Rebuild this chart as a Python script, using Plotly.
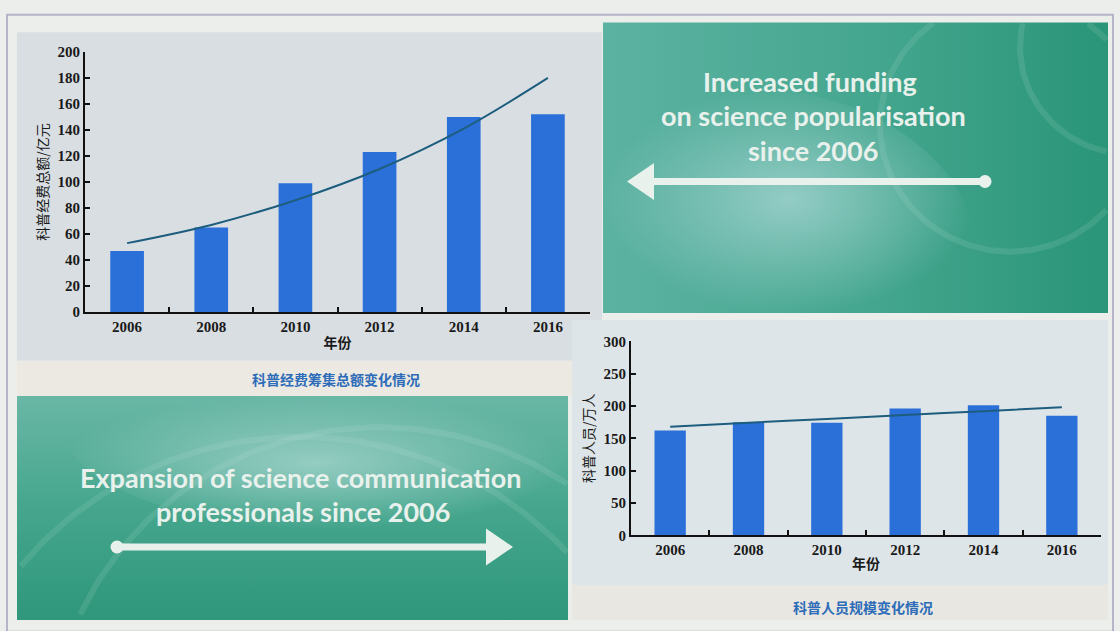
import numpy as np
import plotly.graph_objects as go

W, H = 1120, 631

# ---------------- data ----------------
years = ['2006', '2008', '2010', '2012', '2014', '2016']
funding = [47, 65, 99, 123, 150, 152]            # 科普经费筹集总额 / 亿元
funding_trend = [53, 67, 86, 110, 141, 180]      # fitted trend
staff = [162, 175, 174, 196, 201, 185]           # 科普人员 / 万人
staff_trend = [168, 174, 180, 186, 192, 198]     # fitted trend
funding_ticks = [0, 20, 40, 60, 80, 100, 120, 140, 160, 180, 200]
staff_ticks = [0, 50, 100, 150, 200, 250, 300]

BAR = '#2b6fd9'
TREND = '#1d5d7e'
TXT = '#e9f1ec'


def fx(x):
    return x / W


def fy(y):
    return 1 - y / H


fig = go.Figure()

# ---------- background (pixel) axis: green panels and arrows ----------
def rect(x0, y0, x1, y1):
    return [x0, x1, x1, x0, x0], [y0, y0, y1, y1, y0]


def blob(cx, cy, rx, ry, box):
    t = np.linspace(0, 2 * np.pi, 80)
    xs = np.clip(cx + rx * np.cos(t), box[0], box[2])
    ys = np.clip(cy + ry * np.sin(t), box[1], box[3])
    return list(xs), list(ys)


# top-right green panel
tr = (603, 15, 1108, 313)
xs, ys = rect(*tr)
fig.add_trace(go.Scatter(x=xs, y=ys, mode='lines', line=dict(width=0), fill='toself',
                         fillgradient=dict(type='horizontal',
                                           colorscale=[[0, '#5cb2a1'], [0.5, '#46a790'], [1, '#2a9578']]),
                         hoverinfo='skip', showlegend=False, xaxis='x', yaxis='y'))
bx, by = blob(735, 250, 240, 170, tr)
fig.add_trace(go.Scatter(x=bx, y=by, mode='lines', line=dict(width=0), fill='toself',
                         fillgradient=dict(type='radial',
                                           colorscale=[[0, 'rgba(160,210,205,0.85)'], [1, 'rgba(160,210,205,0)']]),
                         hoverinfo='skip', showlegend=False, xaxis='x', yaxis='y'))

# bottom-left green panel
bl = (17, 398, 568, 628)
xs, ys = rect(*bl)
fig.add_trace(go.Scatter(x=xs, y=ys, mode='lines', line=dict(width=0), fill='toself',
                         fillgradient=dict(type='vertical',
                                           colorscale=[[0, '#2f977b'], [0.5, '#45a68d'], [1, '#6ab7a6']]),
                         hoverinfo='skip', showlegend=False, xaxis='x', yaxis='y'))
bx, by = blob(330, 425, 270, 110, bl)
fig.add_trace(go.Scatter(x=bx, y=by, mode='lines', line=dict(width=0), fill='toself',
                         fillgradient=dict(type='radial',
                                           colorscale=[[0, 'rgba(165,212,205,0.8)'], [1, 'rgba(165,212,205,0)']]),
                         hoverinfo='skip', showlegend=False, xaxis='x', yaxis='y'))

# faint swirl arcs
for cx, cy, r, box in [(1010, 120, 130, tr), (1130, 40, 110, tr), (380, 760, 330, bl), (300, 800, 360, bl)]:
    t = np.linspace(0, 2 * np.pi, 300)
    ax_ = cx + r * np.cos(t)
    ay_ = cy + r * np.sin(t)
    m = (ax_ >= box[0]) & (ax_ <= box[2]) & (ay_ >= box[1]) & (ay_ <= box[3])
    ax_ = np.where(m, ax_, np.nan)
    ay_ = np.where(m, ay_, np.nan)
    fig.add_trace(go.Scatter(x=ax_, y=ay_, mode='lines', line=dict(color='rgba(200,235,225,0.13)', width=6),
                             hoverinfo='skip', showlegend=False, xaxis='x', yaxis='y'))

# arrows
def arrow(x0, x1, y, head_dir):
    hx = x1 - head_dir * 27
    fig.add_trace(go.Scatter(x=[x0, hx], y=[y, y], mode='lines', line=dict(color=TXT, width=7),
                             hoverinfo='skip', showlegend=False, xaxis='x', yaxis='y'))
    fig.add_trace(go.Scatter(x=[x0], y=[y], mode='markers', marker=dict(color=TXT, size=13),
                             hoverinfo='skip', showlegend=False, xaxis='x', yaxis='y'))
    fig.add_trace(go.Scatter(x=[x1, hx, hx, x1], y=[y, y - 19, y + 19, y], mode='lines',
                             line=dict(width=0, color=TXT), fill='toself', fillcolor=TXT,
                             hoverinfo='skip', showlegend=False, xaxis='x', yaxis='y'))


arrow(985, 627, 178, -1)
arrow(117, 513, 553, 1)

# ---------------- charts ----------------
fig.add_trace(go.Bar(x=years, y=funding, marker=dict(color=BAR, line=dict(width=0)), width=0.4,
                     showlegend=False, xaxis='x2', yaxis='y2'))
fig.add_trace(go.Scatter(x=years, y=funding_trend, mode='lines', line=dict(color=TREND, width=2, shape='spline'),
                         showlegend=False, xaxis='x2', yaxis='y2'))
fig.add_trace(go.Bar(x=years, y=staff, marker=dict(color=BAR, line=dict(width=0)), width=0.4,
                     showlegend=False, xaxis='x3', yaxis='y3'))
fig.add_trace(go.Scatter(x=years, y=staff_trend, mode='lines', line=dict(color=TREND, width=2, shape='spline'),
                         showlegend=False, xaxis='x3', yaxis='y3'))

tickfont = dict(family='Liberation Serif', size=15, color='#1a1a1a', weight='bold')
cjk = 'Noto Sans CJK SC'

xcommon = dict(type='category', showline=True, linecolor='#111', linewidth=2, ticks='inside',
               tickson='boundaries', ticklen=5, tickwidth=2, tickcolor='#111', showgrid=False,
               tickfont=tickfont, range=[-0.5, 5.5], fixedrange=True, zeroline=False)
ycommon = dict(showline=True, linecolor='#111', linewidth=2, ticks='inside', ticklen=5, tickwidth=2,
               tickcolor='#111', showgrid=False, zeroline=False, tickfont=tickfont, fixedrange=True)

fig.update_layout(
    width=W, height=H, autosize=False,
    margin=dict(l=0, r=0, t=0, b=0),
    paper_bgcolor='#eceeec', plot_bgcolor='rgba(0,0,0,0)',
    bargap=0.6,
    xaxis=dict(domain=[0, 1], range=[0, W], visible=False, fixedrange=True),
    yaxis=dict(domain=[0, 1], range=[H, 0], visible=False, fixedrange=True),
    xaxis2=dict(domain=[fx(85), fx(590)], anchor='y2',
                title=dict(text='年份', font=dict(family=cjk, size=14, color='#1a1a1a', weight='bold'), standoff=4),
                **xcommon),
    yaxis2=dict(domain=[fy(312), fy(45)], anchor='x2', range=[0, 200], tickvals=funding_ticks,
                title=dict(text='科普经费总额/亿元', font=dict(family=cjk, size=14, color='#1a1a1a'), standoff=6),
                **ycommon),
    xaxis3=dict(domain=[fx(631), fx(1101)], anchor='y3',
                title=dict(text='年份', font=dict(family=cjk, size=14, color='#1a1a1a', weight='bold'), standoff=2),
                **xcommon),
    yaxis3=dict(domain=[fy(541), fy(342)], anchor='x3', range=[0, 300], tickvals=staff_ticks,
                title=dict(text='科普人员/万人', font=dict(family=cjk, size=14, color='#1a1a1a'), standoff=6),
                **ycommon),
)

# ---------- decorative panels (below everything) ----------
shapes = [
    dict(type='rect', x0=fx(7), x1=fx(1113), y0=fy(640), y1=fy(7), line=dict(color='#b7b3c8', width=2),
         fillcolor='#eceeeb'),
    dict(type='rect', x0=fx(17), x1=fx(602), y0=fy(362), y1=fy(25), line=dict(width=0), fillcolor='#d9dee2'),
    dict(type='rect', x0=fx(17), x1=fx(602), y0=fy(398), y1=fy(362), line=dict(width=0), fillcolor='#ece9e2'),
    dict(type='rect', x0=fx(572), x1=fx(1108), y0=fy(592), y1=fy(320), line=dict(width=0), fillcolor='#dee5e8'),
    dict(type='rect', x0=fx(572), x1=fx(1108), y0=fy(628), y1=fy(592), line=dict(width=0), fillcolor='#e9e7e1'),
]
for s in shapes:
    s.update(xref='paper', yref='paper', layer='below')
fig.update_layout(shapes=shapes)

# ---------- text ----------
ann = []
for txt, x, y in [('Increased funding', 810, 75), ('on science popularisation', 813, 110),
                  ('since 2006', 813, 146),
                  ('Expansion of science communication', 300, 482), ('professionals since 2006', 303, 517)]:
    ann.append(dict(text=txt, x=fx(x), y=fy(y), xref='paper', yref='paper', showarrow=False,
                    xanchor='center', yanchor='middle',
                    font=dict(family='Lato', size=27, color=TXT, weight='bold')))
ann.append(dict(text='科普经费筹集总额变化情况', x=fx(336), y=fy(381), xref='paper', yref='paper',
                showarrow=False, xanchor='center', yanchor='middle',
                font=dict(family=cjk, size=14, color='#2c6cb8', weight='bold')))
ann.append(dict(text='科普人员规模变化情况', x=fx(863), y=fy(615), xref='paper', yref='paper',
                showarrow=False, xanchor='center', yanchor='middle',
                font=dict(family=cjk, size=14, color='#2c6cb8', weight='bold')))
fig.update_layout(annotations=ann)

fig.write_html('out.html', config={'displayModeBar': False})
